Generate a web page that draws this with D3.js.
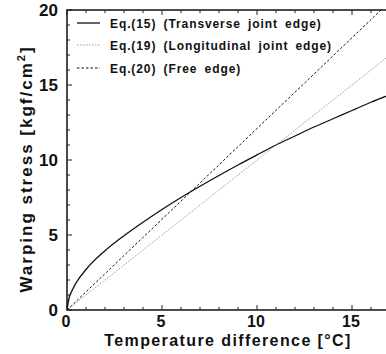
<!DOCTYPE html>
<html>
<head>
<meta charset="utf-8">
<script src="https://cdn.jsdelivr.net/npm/d3@7"></script>
<style>
body { margin: 0; background: #fff; overflow: hidden; }
text { font-family: "Liberation Sans", Arial, sans-serif; font-weight: bold; fill: #111; }
</style>
</head>
<body>
<script>
var w = 386, h = 354;

// temperature difference [C]
var tempDiff = [0, 0.1, 0.25, 0.5, 1, 2, 3, 4, 5, 6, 7, 8, 9, 10, 11, 12, 13, 14, 15, 16, 17];
// Eq.(15) transverse joint edge
var eq15 = [0, 0.75, 1.25, 1.85, 2.7, 3.95, 4.95, 5.85, 6.7, 7.5, 8.25, 8.97, 9.67, 10.34, 11.0, 11.6, 12.2, 12.75, 13.3, 13.85, 14.35];
// Eq.(19) longitudinal joint edge
var eq19 = [0, 0.1, 0.25, 0.5, 1.0, 2.0, 3.0, 4.0, 5.0, 6.0, 7.0, 8.0, 9.0, 10.0, 11.0, 12.0, 13.0, 14.0, 15.0, 16.0, 17.0];
// Eq.(20) free edge
var eq20 = [0, 0.12, 0.3, 0.6, 1.21, 2.42, 3.63, 4.84, 6.05, 7.26, 8.47, 9.68, 10.89, 12.1, 13.31, 14.52, 15.73, 16.94, 18.15, 19.36, 20.57];

var xTicks = [0, 5, 10, 15];
var yTicks = [0, 5, 10, 15, 20];
var legendLabels = ["Eq.(15) (Transverse joint edge)", "Eq.(19) (Longitudinal joint edge)", "Eq.(20) (Free edge)"];

var svg = d3.select("body").append("svg").attr("width", w).attr("height", h);

var x = d3.scaleLinear().domain([0, 17]).range([67, 390]);
var y = d3.scaleLinear().domain([0, 20]).range([310, 10]);

svg.append("clipPath").attr("id", "clip").append("rect")
  .attr("x", 67).attr("y", 10).attr("width", 323).attr("height", 300);

// frame
svg.append("rect").attr("x", 67).attr("y", 10).attr("width", 323).attr("height", 300)
  .attr("fill", "none").attr("stroke", "#111").attr("stroke-width", 1.5);

// minor/major ticks (inward)
var g = svg.append("g").attr("stroke", "#222").attr("stroke-width", 1);
d3.range(0, 18).forEach(function(v) {
  var len = v % 5 == 0 ? 5 : 3;
  g.append("line").attr("x1", x(v)).attr("x2", x(v)).attr("y1", y(0)).attr("y2", y(0) - len);
  g.append("line").attr("x1", x(v)).attr("x2", x(v)).attr("y1", y(20)).attr("y2", y(20) + len);
});
d3.range(0, 21).forEach(function(v) {
  var len = v % 5 == 0 ? 5 : 3;
  g.append("line").attr("y1", y(v)).attr("y2", y(v)).attr("x1", x(0)).attr("x2", x(0) + len);
});

svg.selectAll(".xt").data(xTicks).enter().append("text")
  .attr("x", function(d) { return x(d) - 1; }).attr("y", 327)
  .attr("text-anchor", "middle").style("font-size", "16px")
  .text(function(d) { return d; });

svg.selectAll(".yt").data(yTicks).enter().append("text")
  .attr("x", 58).attr("y", function(d) { return y(d) + 6; })
  .attr("text-anchor", "end").style("font-size", "17px")
  .text(function(d) { return d; });

svg.append("text").attr("x", 228).attr("y", 346).attr("text-anchor", "middle")
  .style("font-size", "16px").style("letter-spacing", "1.4px")
  .text("Temperature difference [°C]");

var yt = svg.append("text").attr("transform", "translate(32,169) rotate(-90)")
  .attr("text-anchor", "middle").style("font-size", "17px").style("letter-spacing", "2px");
yt.append("tspan").text("Warping stress [kgf/cm");
yt.append("tspan").attr("dy", -7).style("font-size", "11px").text("2");
yt.append("tspan").attr("dy", 7).text("]");

var styles = [
  { data: eq15, color: "#111", width: 1.3, dash: null },
  { data: eq19, color: "#999", width: 1, dash: "1.5,1.5" },
  { data: eq20, color: "#111", width: 1, dash: "2.5,2" }
];

var line = d3.line()
  .x(function(d) { return x(d[0]); })
  .y(function(d) { return y(d[1]); })
  .curve(d3.curveMonotoneX);

styles.forEach(function(s) {
  svg.append("path").datum(tempDiff.map(function(t, i) { return [t, s.data[i]]; }))
    .attr("d", line).attr("clip-path", "url(#clip)")
    .attr("fill", "none").attr("stroke", s.color).attr("stroke-width", s.width)
    .attr("stroke-dasharray", s.dash);
});

// legend
var legendY = [23, 45, 68];
legendLabels.forEach(function(l, i) {
  var ly = legendY[i];
  svg.append("line").attr("x1", 77).attr("x2", 100).attr("y1", ly).attr("y2", ly)
    .attr("stroke", styles[i].color).attr("stroke-width", styles[i].width)
    .attr("stroke-dasharray", styles[i].dash);
  svg.append("text").attr("x", 110).attr("y", ly + 4.5).style("font-size", "12px")
    .style("letter-spacing", "0.9px").style("word-spacing", "3px").text(l);
});
</script>
</body>
</html>
